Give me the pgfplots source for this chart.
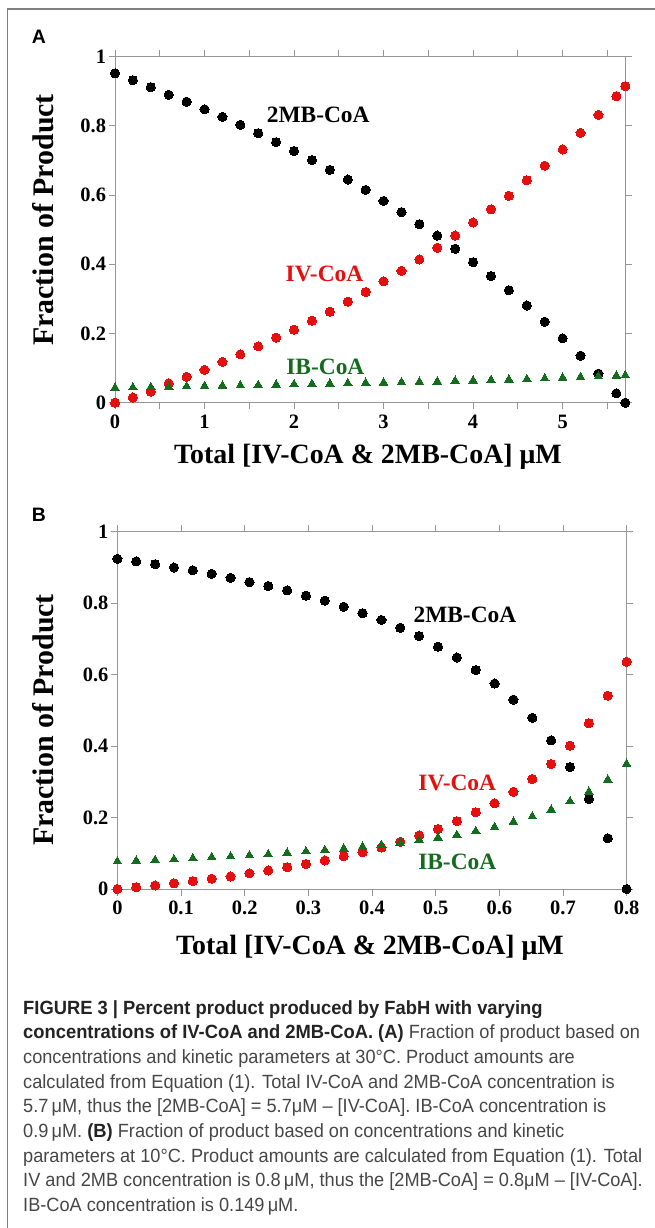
\documentclass[border=0pt]{standalone}
\usepackage{fontspec}
\setmainfont{Liberation Serif}
\newfontfamily\capfont[FakeStretch=0.95]{Liberation Sans}
\newfontfamily\capbf[FakeStretch=0.96]{Liberation Sans}
\newfontfamily\panelfont{Liberation Sans}
\usepackage{pgfplots}
\usepackage{pgfplotstable}
\pgfplotsset{compat=1.18}
\definecolor{myred}{RGB}{228,16,16}
\definecolor{mygreen}{RGB}{22,108,30}
\definecolor{framegray}{RGB}{128,128,128}
\definecolor{axgray}{RGB}{150,150,150}
\definecolor{captext}{RGB}{70,70,70}
\definecolor{capbold}{RGB}{35,35,35}
\newcommand{\cb}[1]{{\capbf\bfseries\color{capbold}#1}}

\pgfplotstableread{
x    mb     iv     ib
0.0  0.952  0.000  0.043
0.2  0.932  0.015  0.044
0.4  0.912  0.032  0.045
0.6  0.890  0.056  0.046
0.8  0.870  0.075  0.047
1.0  0.848  0.095  0.048
1.2  0.826  0.118  0.049
1.4  0.803  0.140  0.050
1.6  0.779  0.163  0.051
1.8  0.753  0.188  0.052
2.0  0.727  0.211  0.053
2.2  0.701  0.237  0.054
2.4  0.673  0.263  0.055
2.6  0.645  0.292  0.056
2.8  0.615  0.320  0.057
3.0  0.583  0.351  0.058
3.2  0.551  0.381  0.059
3.4  0.516  0.414  0.060
3.6  0.483  0.448  0.061
3.8  0.445  0.483  0.063
4.0  0.406  0.521  0.064
4.2  0.366  0.559  0.065
4.4  0.325  0.598  0.067
4.6  0.281  0.643  0.068
4.8  0.234  0.685  0.070
5.0  0.186  0.732  0.072
5.2  0.136  0.780  0.074
5.4  0.084  0.832  0.076
5.6  0.027  0.886  0.078
5.7  0.000  0.915  0.079
}\dataA

\pgfplotstableread{
x       mb     iv     ib
0.0000  0.924  0.000  0.077
0.0296  0.917  0.005  0.079
0.0593  0.909  0.010  0.081
0.0889  0.900  0.016  0.083
0.1185  0.892  0.022  0.086
0.1481  0.882  0.029  0.089
0.1778  0.871  0.035  0.091
0.2074  0.859  0.044  0.094
0.2370  0.848  0.052  0.097
0.2667  0.836  0.061  0.101
0.2963  0.821  0.070  0.105
0.3259  0.807  0.080  0.109
0.3556  0.790  0.092  0.113
0.3852  0.772  0.103  0.118
0.4148  0.753  0.116  0.123
0.4444  0.731  0.132  0.129
0.4741  0.708  0.150  0.137
0.5037  0.678  0.168  0.144
0.5333  0.648  0.190  0.151
0.5630  0.613  0.215  0.162
0.5926  0.575  0.240  0.173
0.6222  0.530  0.272  0.188
0.6519  0.479  0.308  0.203
0.6815  0.416  0.350  0.222
0.7111  0.341  0.401  0.245
0.7407  0.252  0.464  0.272
0.7704  0.142  0.541  0.306
0.8000  0.000  0.636  0.350
}\dataB

\tikzset{lab/.style={font=\bfseries\fontsize{23.5}{23.5}\selectfont}}
\pgfplotsset{
  panel/.style={
    scale only axis, clip=false,
    axis line style={axgray, line width=0.9bp},
    every tick/.style={axgray, line width=0.9bp},
    tick align=outside, major tick length=6.5bp,
    ymin=0, ymax=1,
    ytick={0,0.2,0.4,0.6,0.8,1},
    yticklabels={0,0.2,0.4,0.6,0.8,1},
    tick label style={font=\bfseries\fontsize{20.5}{20.5}\selectfont, black},
    yticklabel style={xshift=1bp},
    xticklabel style={yshift=-2bp},
  },
  mbs/.style={only marks, color=black, mark=*, mark size=4.6bp, mark options={solid, draw=black, fill=black, line width=0pt}},
  ivs/.style={only marks, color=myred, mark=*, mark size=4.6bp, mark options={solid, draw=myred, fill=myred, line width=0pt}},
  ibs/.style={only marks, color=mygreen, mark=triangle*, mark size=5bp, mark options={solid, draw=mygreen, fill=mygreen, line width=0pt}},
}

\begin{document}
\begin{tikzpicture}
\useasboundingbox (0,0) rectangle (655bp,-1228bp);
\draw[framegray, line width=1.4bp] (7.3bp,-1240bp) -- (7.3bp,-9bp) -- (670bp,-9bp);

\node[font=\panelfont\bfseries\fontsize{19.5}{19.5}\selectfont] at (39bp,-36.5bp) {A};
\node[font=\panelfont\bfseries\fontsize{19.5}{19.5}\selectfont] at (39bp,-515bp) {B};

% Panel A
\begin{axis}[panel, at={(115bp,-402.7bp)}, anchor=south west,
  width=510.3bp, height=346bp, xmin=0, xmax=5.7,
  xtick={0,0.5,1,1.5,2,2.5,3,3.5,4,4.5,5,5.5},
  xticklabels={0,,1,,2,,3,,4,,5,}]
\addplot[mbs] table[x=x, y=mb] {\dataA};
\addplot[ivs] table[x=x, y=iv] {\dataA};
\addplot[ibs] table[x=x, y=ib] {\dataA};
\node[lab, black] at (axis cs:2.27,0.831) {2MB-CoA};
\node[lab, myred] at (axis cs:2.34,0.372) {IV-CoA};
\node[lab, mygreen] at (axis cs:2.35,0.103) {IB-CoA};
\end{axis}

% Panel B
\begin{axis}[panel, at={(117.4bp,-889bp)}, anchor=south west,
  width=509.2bp, height=357.3bp, xmin=0, xmax=0.8,
  xtick={0,0.1,0.2,0.3,0.4,0.5,0.6,0.7,0.8},
  xticklabels={0,0.1,0.2,0.3,0.4,0.5,0.6,0.7,0.8}]
\addplot[mbs] table[x=x, y=mb] {\dataB};
\addplot[ivs] table[x=x, y=iv] {\dataB};
\addplot[ibs] table[x=x, y=ib] {\dataB};
\node[lab, black] at (axis cs:0.546,0.767) {2MB-CoA};
\node[lab, myred] at (axis cs:0.534,0.297) {IV-CoA};
\node[lab, mygreen] at (axis cs:0.534,0.076) {IB-CoA};
\end{axis}

\node[rotate=90, font=\bfseries\fontsize{30}{30}\selectfont] at (43.5bp,-220bp) {Fraction of Product};
\node[rotate=90, font=\bfseries\fontsize{30}{30}\selectfont] at (43.5bp,-720bp) {Fraction of Product};
\node[font=\bfseries\fontsize{28}{28}\selectfont] at (368bp,-457bp) {Total [IV-CoA \& 2MB-CoA] μM};
\node[font=\bfseries\fontsize{28}{28}\selectfont] at (370bp,-948bp) {Total [IV-CoA \& 2MB-CoA] μM};

% Caption
\begin{scope}[every node/.style={anchor=base west, inner sep=0pt, font=\capfont\fontsize{19.2}{19.2}\selectfont, text=captext}]
\node at (23bp,-1014bp) {\cb{FIGURE 3 | Percent product produced by FabH with varying}};
\node at (23bp,-1038.7bp) {\cb{concentrations of IV-CoA and 2MB-CoA. (A)} Fraction of product based on};
\node at (23bp,-1063.4bp) {concentrations and kinetic parameters at 30°C. Product amounts are};
\node at (23bp,-1088.1bp) {calculated from Equation (1). Total IV-CoA and 2MB-CoA concentration is};
\node at (23bp,-1112.8bp) {5.7\,μM, thus the [2MB-CoA] = 5.7μM – [IV-CoA]. IB-CoA concentration is};
\node at (23bp,-1137.5bp) {0.9\,μM. \cb{(B)} Fraction of product based on concentrations and kinetic};
\node at (23bp,-1162.2bp) {parameters at 10°C. Product amounts are calculated from Equation (1). Total};
\node at (23bp,-1186.9bp) {IV and 2MB concentration is 0.8\,μM, thus the [2MB-CoA] = 0.8μM – [IV-CoA].};
\node at (23bp,-1211.6bp) {IB-CoA concentration is 0.149\,μM.};
\end{scope}
\end{tikzpicture}
\end{document}
